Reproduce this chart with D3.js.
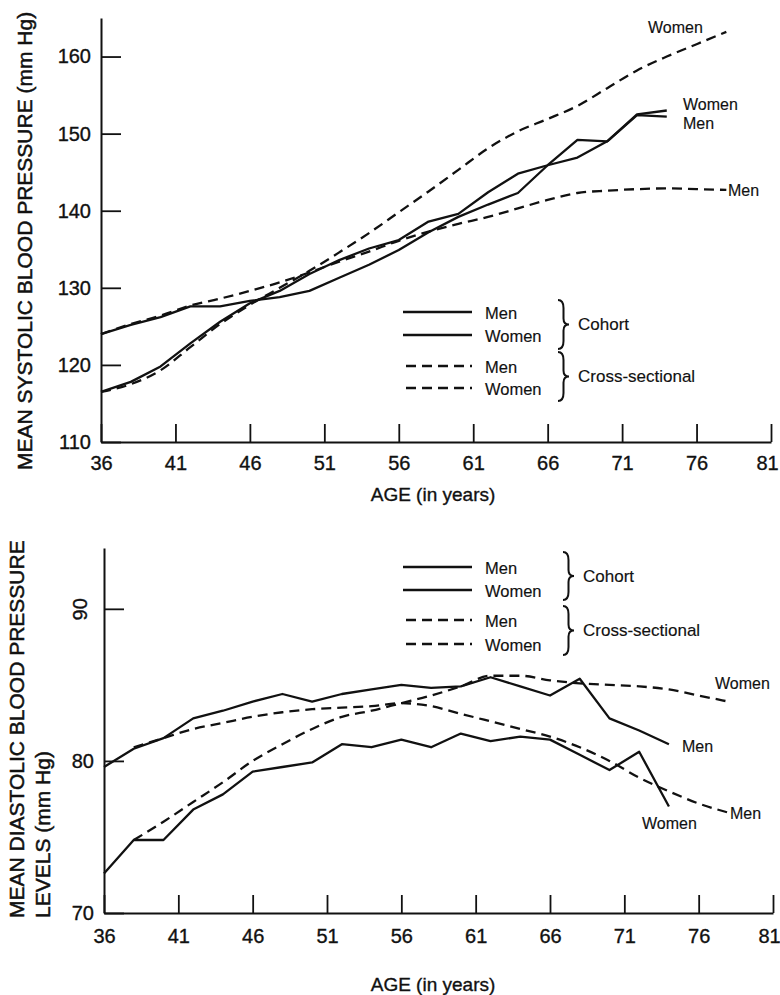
<!DOCTYPE html>
<html>
<head>
<meta charset="utf-8">
<script src="https://cdn.jsdelivr.net/npm/d3@7"></script>
<style>
  body { margin: 0; background: #fff; }
  text { font-family: "Liberation Sans", Arial, Helvetica, sans-serif; fill: #111; stroke: #111; stroke-width: 0.35px; }
</style>
</head>
<body>
<svg id="chart" width="780" height="995"></svg>
<script>
// Ages at which the groups were measured
const cohortAges = [36, 38, 40, 42, 44, 46, 48, 50, 52, 54, 56, 58, 60, 62, 64, 66, 68, 70, 72, 74];
const crossAges = [36, 38, 40, 42, 44, 46, 48, 50, 52, 54, 56, 58, 60, 62, 64, 66, 68, 70, 72, 74, 76, 78];
const crossAgesDia = [38, 40, 42, 44, 46, 48, 50, 52, 54, 56, 58, 60, 62, 64, 66, 68, 70, 72, 74, 76, 78];

// Systolic (mm Hg)
const sysCohortMen = [124, 125.2, 126.2, 127.6, 127.6, 128.3, 128.8, 129.6, 131.3, 133.0, 134.9, 137.2, 139.2, 140.8, 142.3, 145.9, 146.9, 149.0, 152.4, 152.2];
const sysCohortWomen = [116.5, 117.8, 119.8, 122.8, 125.6, 128.0, 129.6, 131.8, 133.6, 135.1, 136.2, 138.6, 139.6, 142.4, 144.8, 145.9, 149.2, 149.0, 152.5, 153.0];
const sysCrossMen = [124, 125.3, 126.4, 127.7, 128.6, 129.6, 130.7, 132.0, 133.4, 134.7, 136.1, 137.3, 138.3, 139.2, 140.3, 141.4, 142.3, 142.6, 142.8, 142.9, 142.8, 142.7];
const sysCrossWomen = [116.5, 117.5, 119.3, 122.3, 125.3, 127.8, 130.0, 132.2, 134.6, 137.1, 139.8, 142.5, 145.3, 148.1, 150.3, 151.9, 153.6, 155.9, 158.2, 160.0, 161.6, 163.2];

// Diastolic (mm Hg)
const diaCohortMen = [79.6, 80.8, 81.5, 82.8, 83.3, 83.9, 84.4, 83.9, 84.4, 84.7, 85.0, 84.8, 84.9, 85.5, 84.9, 84.3, 85.4, 82.8, 82.0, 81.1];
const diaCohortWomen = [72.6, 74.8, 74.8, 76.8, 77.8, 79.3, 79.6, 79.9, 81.1, 80.9, 81.4, 80.9, 81.8, 81.3, 81.6, 81.4, 80.4, 79.4, 80.6, 77.0];
const diaCrossMen = [80.9, 81.5, 82.1, 82.5, 82.9, 83.2, 83.4, 83.5, 83.6, 83.8, 83.6, 83.1, 82.6, 82.1, 81.6, 80.9, 80.0, 78.9, 78.0, 77.2, 76.6];
const diaCrossWomen = [74.8, 76.0, 77.3, 78.6, 80.0, 81.1, 82.1, 82.9, 83.3, 83.8, 84.3, 84.9, 85.6, 85.6, 85.3, 85.1, 85.0, 84.9, 84.7, 84.3, 83.9];

const ageTicks = [36, 41, 46, 51, 56, 61, 66, 71, 76, 81];
const sysTicks = [110, 120, 130, 140, 150, 160];
const diaTicks = [70, 80, 90];

const svg = d3.select("#chart");
const ink = "#111";

// Right-facing curly brace between y0 and y1
function brace(x, y0, y1, w) {
  const m = (y0 + y1) / 2;
  const h = x + w / 2;
  return `M${x},${y0} Q${h},${y0} ${h},${y0 + 8} L${h},${m - 6} Q${h},${m} ${x + w},${m}` +
         ` Q${h},${m} ${h},${m + 6} L${h},${y1 - 8} Q${h},${y1} ${x},${y1}`;
}

function drawPanel(p) {
  const g = svg.append("g");

  const x = d3.scaleLinear().domain([36, 81]).range(p.xRange);
  const y = d3.scaleLinear().domain(p.yDomain).range(p.yRange);

  // axes: ticks point into the plot
  const xAxis = g.append("g")
      .attr("transform", `translate(0,${p.yRange[0]})`)
      .call(d3.axisBottom(x).tickValues(ageTicks).tickSizeInner(-18).tickSizeOuter(0).tickPadding(p.xPad));

  const yAxis = g.append("g")
      .attr("transform", `translate(${p.xRange[0]},0)`)
      .call(d3.axisLeft(y).tickValues(p.yTicks).tickSizeInner(-20).tickSizeOuter(0).tickPadding(10));

  [xAxis, yAxis].forEach(a => {
    a.select(".domain").attr("stroke", ink).attr("stroke-width", 2);
    a.selectAll(".tick line").attr("stroke", ink).attr("stroke-width", 1.8);
    a.selectAll(".tick text").attr("fill", ink).style("font-size", "20px")
        .style("font-family", "'Liberation Sans', Arial, sans-serif");
  });

  // last age label sits against the right edge
  xAxis.selectAll(".tick text").filter(d => d === 81).attr("dx", -4);

  if (p.rotateTick != null) {
    yAxis.selectAll(".tick text")
        .filter(d => d === p.rotateTick)
        .attr("x", -24).attr("dy", "0.35em")
        .attr("text-anchor", "middle")
        .attr("transform", "rotate(-90,-24,0)");
  }

  // series
  const solid = d3.line().x(d => x(d[0])).y(d => y(d[1]));
  const dashed = d3.line().x(d => x(d[0])).y(d => y(d[1])).curve(d3.curveMonotoneX);

  p.series.forEach(s => {
    g.append("path")
        .datum(d3.zip(s.ages, s.values))
        .attr("fill", "none")
        .attr("stroke", ink)
        .attr("stroke-width", 2.3)
        .attr("stroke-linejoin", "round")
        .attr("stroke-dasharray", s.dash ? "10,6" : null)
        .attr("d", d => (s.dash ? dashed : solid)(d));
  });

  // end labels
  p.labels.forEach(l => {
    g.append("text")
        .attr("x", l.x).attr("y", l.y)
        .attr("dy", "0.35em")
        .style("font-size", "16px")
        .style("stroke-width", "0.15px")
        .text(l.text);
  });

  // legend
  const lg = g.append("g");
  p.legendRows.forEach(r => {
    lg.append("line")
        .attr("x1", r.dash ? 406 : 403).attr("x2", 472)
        .attr("y1", r.y).attr("y2", r.y)
        .attr("stroke", ink).attr("stroke-width", 2.4)
        .attr("stroke-dasharray", r.dash ? "10,6" : null);
    lg.append("text")
        .attr("x", 485).attr("y", r.y + 1)
        .attr("dy", "0.35em")
        .style("font-size", "16.5px")
        .style("stroke-width", "0.15px")
        .text(r.text);
  });
  p.braces.forEach(b => {
    lg.append("path")
        .attr("d", brace(b.x, b.y0, b.y1, 11))
        .attr("fill", "none").attr("stroke", ink).attr("stroke-width", 2);
    lg.append("text")
        .attr("x", b.x + 20).attr("y", (b.y0 + b.y1) / 2)
        .attr("dy", "0.35em")
        .style("font-size", "17px")
        .style("stroke-width", "0.15px")
        .text(b.text);
  });

  // axis titles
  g.append("text")
      .attr("x", 433).attr("y", p.xTitleY)
      .attr("text-anchor", "middle")
      .attr("dy", "0.35em")
      .style("font-size", "19px")
      .text("AGE (in years)");

  p.yTitle.forEach(t => {
    g.append("text")
        .attr("transform", `translate(${t.x},${p.yTitleBottom}) rotate(-90)`)
        .attr("dy", "0.35em")
        .style("font-size", "21px")
        .style("stroke-width", "0.5px")
        .text(t.text);
  });
}

drawPanel({
  xRange: [101, 771],
  yDomain: [110, 165],
  yRange: [442, 18],
  yTicks: sysTicks,
  xPad: 14,
  xTitleY: 494,
  yTitleBottom: 470,
  yTitle: [{x: 25, text: "MEAN SYSTOLIC BLOOD PRESSURE (mm Hg)"}],
  series: [
    {ages: cohortAges, values: sysCohortMen, dash: false},
    {ages: cohortAges, values: sysCohortWomen, dash: false},
    {ages: crossAges, values: sysCrossMen, dash: true},
    {ages: crossAges, values: sysCrossWomen, dash: true}
  ],
  labels: [
    {x: 648, y: 27, text: "Women"},
    {x: 683, y: 104, text: "Women"},
    {x: 683, y: 123, text: "Men"},
    {x: 728, y: 190, text: "Men"}
  ],
  legendRows: [
    {y: 312, text: "Men", dash: false},
    {y: 335, text: "Women", dash: false},
    {y: 366, text: "Men", dash: true},
    {y: 388, text: "Women", dash: true}
  ],
  braces: [
    {x: 558, y0: 300, y1: 349, text: "Cohort"},
    {x: 558, y0: 352, y1: 401, text: "Cross-sectional"}
  ]
});

drawPanel({
  xRange: [104, 773],
  yDomain: [70, 94],
  yRange: [913, 548],
  yTicks: diaTicks,
  rotateTick: 90,
  xPad: 16,
  xTitleY: 984,
  yTitleBottom: 918,
  yTitle: [
    {x: 17, text: "MEAN DIASTOLIC BLOOD PRESSURE"},
    {x: 43, text: "LEVELS (mm Hg)"}
  ],
  series: [
    {ages: cohortAges, values: diaCohortMen, dash: false},
    {ages: cohortAges, values: diaCohortWomen, dash: false},
    {ages: crossAgesDia, values: diaCrossMen, dash: true},
    {ages: crossAgesDia, values: diaCrossWomen, dash: true}
  ],
  labels: [
    {x: 715, y: 683, text: "Women"},
    {x: 682, y: 746, text: "Men"},
    {x: 642, y: 823, text: "Women"},
    {x: 730, y: 813, text: "Men"}
  ],
  legendRows: [
    {y: 567, text: "Men", dash: false},
    {y: 590, text: "Women", dash: false},
    {y: 620, text: "Men", dash: true},
    {y: 644, text: "Women", dash: true}
  ],
  braces: [
    {x: 563, y0: 552, y1: 600, text: "Cohort"},
    {x: 563, y0: 606, y1: 655, text: "Cross-sectional"}
  ]
});
</script>
</body>
</html>
